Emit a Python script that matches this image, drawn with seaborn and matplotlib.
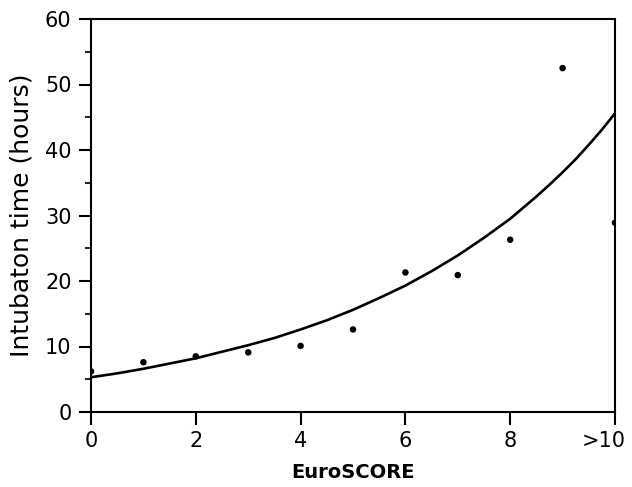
import matplotlib
matplotlib.use("Agg")
import matplotlib.pyplot as plt
import matplotlib.transforms as mtransforms
import seaborn as sns
import pandas as pd

# Observed mean intubation time per EuroSCORE
euroscore = [0, 1, 2, 3, 4, 5, 6, 7, 8, 9, 10]
intubation_hours = [6.2, 7.6, 8.5, 9.1, 10.1, 12.6, 21.3, 20.9, 26.3, 52.5, 28.9]

# Fitted curve
curve_x = [0, 0.5, 1, 1.5, 2, 2.5, 3, 3.5, 4, 4.5, 5, 5.5, 6, 6.5, 7, 7.5, 8, 8.5,
           8.75, 9, 9.25, 9.5, 9.75, 10]
curve_y = [5.3, 5.9, 6.6, 7.4, 8.2, 9.2, 10.2, 11.3, 12.6, 14.0, 15.6, 17.4, 19.3,
           21.5, 23.9, 26.6, 29.5, 32.9, 34.7, 36.6, 38.6, 40.8, 43.1, 45.6]

x_ticks = [0, 2, 4, 6, 8, 10]
x_tick_labels = ["0", "2", "4", "6", "8", ">10"]
y_ticks = [0, 10, 20, 30, 40, 50, 60]
y_minor_ticks = [5, 15, 25, 35, 45, 55]

sns.set_style("ticks")
plt.rcParams['font.family'] = ['DejaVu Sans']

pts = pd.DataFrame({"EuroSCORE": euroscore, "hours": intubation_hours})
fit = pd.DataFrame({"EuroSCORE": curve_x, "hours": curve_y})

fig = plt.figure(figsize=(6.32, 4.87), dpi=100)
ax = fig.add_axes([91 / 632, 1 - 412 / 487, (615 - 91) / 632, (412 - 19) / 487])

sns.lineplot(data=fit, x="EuroSCORE", y="hours", ax=ax, color="black", linewidth=1.9)
sns.scatterplot(data=pts, x="EuroSCORE", y="hours", ax=ax, color="black", s=22,
                edgecolor="none", zorder=3)

ax.set_xlim(0, 10)
ax.set_ylim(0, 60)
ax.set_xticks(x_ticks)
ax.set_xticklabels(x_tick_labels)
ax.set_yticks(y_ticks)
ax.set_yticks(y_minor_ticks, minor=True)

for sp in ax.spines.values():
    sp.set_visible(True)
    sp.set_linewidth(1.5)
    sp.set_color("black")
    sp.set_zorder(4)

ax.tick_params(axis="both", which="major", direction="out", length=9, width=1.5,
               labelsize=15, colors="black", labelcolor="black", pad=5)
ax.tick_params(axis="y", which="minor", direction="out", length=4.5, width=1.5)
ax.tick_params(axis="x", which="minor", bottom=False)
ax.tick_params(top=False, right=False)

# nudge the last x label left so it stays inside the figure
last = ax.get_xticklabels()[-1]
last.set_transform(last.get_transform() +
                   mtransforms.ScaledTranslation(-11 / 100, 0, fig.dpi_scale_trans))

ax.set_xlabel("EuroSCORE", fontsize=14, fontweight="bold", labelpad=8, color="black")
ax.set_ylabel("Intubaton time (hours)", fontsize=18, labelpad=8, color="black")

fig.savefig("out.png", dpi=100)
